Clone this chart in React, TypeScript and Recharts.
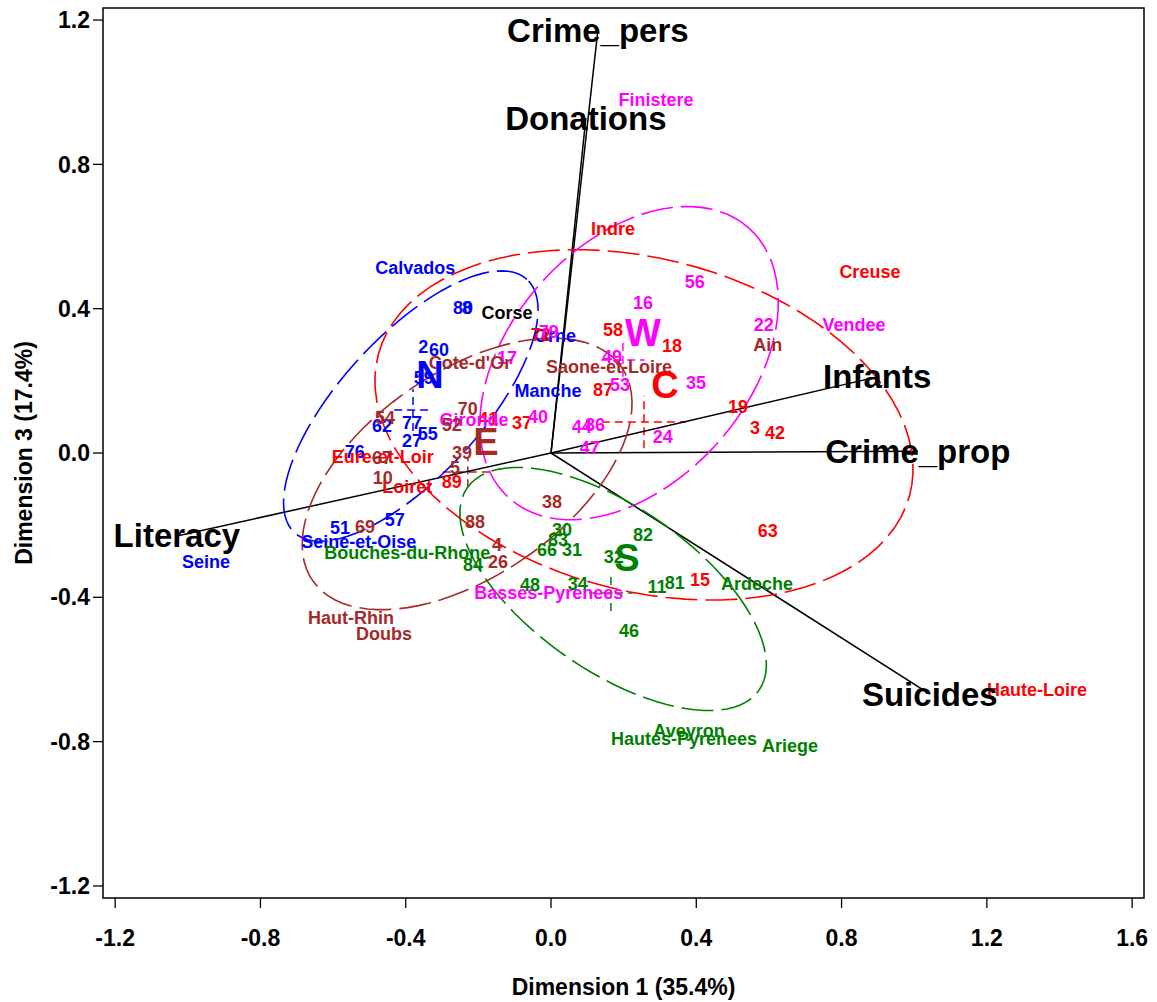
import React from 'react';
import {
  ScatterChart,
  Scatter,
  XAxis,
  YAxis,
  ReferenceLine,
  ReferenceArea
} from 'recharts';

// region colours
const colors: Record<string, string> = {
  N: '#0000FF',
  C: '#FF0000',
  E: '#A52A2A',
  S: '#008000',
  W: '#FF00FF'
};

const xTicks = [-1.2, -0.8, -0.4, 0.0, 0.4, 0.8, 1.2, 1.6];
const yTicks = [-1.2, -0.8, -0.4, 0.0, 0.4, 0.8, 1.2];

// department labels per region (Dimension 1, Dimension 3)
const northDepts = [
  { name: 'Calvados', x: -0.374, y: 0.513 },
  { name: '80', x: -0.242, y: 0.402 },
  { name: '8', x: -0.231, y: 0.402 },
  { name: '2', x: -0.352, y: 0.294 },
  { name: '60', x: -0.308, y: 0.285 },
  { name: '59', x: -0.35, y: 0.208 },
  { name: '62', x: -0.465, y: 0.075 },
  { name: '77', x: -0.383, y: 0.083 },
  { name: '27', x: -0.383, y: 0.033 },
  { name: '55', x: -0.339, y: 0.053 },
  { name: '76', x: -0.54, y: 0.003 },
  { name: '51', x: -0.581, y: -0.208 },
  { name: '57', x: -0.43, y: -0.186 },
  { name: 'Seine-et-Oise', x: -0.529, y: -0.247 },
  { name: 'Seine', x: -0.95, y: -0.302 },
  { name: 'Orne', x: 0.011, y: 0.325 },
  { name: 'Manche', x: -0.008, y: 0.172 }
];

const centreDepts = [
  { name: 'Indre', x: 0.171, y: 0.621 },
  { name: 'Creuse', x: 0.878, y: 0.502 },
  { name: '58', x: 0.171, y: 0.341 },
  { name: '18', x: 0.333, y: 0.297 },
  { name: '87', x: 0.143, y: 0.175 },
  { name: '19', x: 0.515, y: 0.128 },
  { name: '3', x: 0.562, y: 0.069 },
  { name: '42', x: 0.617, y: 0.055 },
  { name: '63', x: 0.597, y: -0.216 },
  { name: '15', x: 0.41, y: -0.352 },
  { name: 'Haute-Loire', x: 1.338, y: -0.657 },
  { name: 'Eure-et-Loir', x: -0.463, y: -0.011 },
  { name: 'Loiret', x: -0.396, y: -0.094 },
  { name: '89', x: -0.273, y: -0.08 },
  { name: '37', x: -0.08, y: 0.083 },
  { name: '72', x: -0.028, y: 0.327 },
  { name: '41', x: -0.173, y: 0.094 }
];

const westDepts = [
  { name: 'Finistere', x: 0.289, y: 0.978 },
  { name: '56', x: 0.396, y: 0.474 },
  { name: '16', x: 0.253, y: 0.416 },
  { name: '22', x: 0.586, y: 0.355 },
  { name: 'Vendee', x: 0.834, y: 0.355 },
  { name: '79', x: -0.006, y: 0.335 },
  { name: '17', x: -0.121, y: 0.263 },
  { name: '49', x: 0.168, y: 0.266 },
  { name: '53', x: 0.19, y: 0.188 },
  { name: '35', x: 0.399, y: 0.194 },
  { name: 'Gironde', x: -0.212, y: 0.091 },
  { name: '40', x: -0.036, y: 0.1 },
  { name: '44', x: 0.085, y: 0.072 },
  { name: '86', x: 0.121, y: 0.078 },
  { name: '47', x: 0.107, y: 0.014 },
  { name: '24', x: 0.308, y: 0.044 },
  { name: 'Basses-Pyrenees', x: -0.006, y: -0.388 }
];

const eastDepts = [
  { name: "Cote-d'Or", x: -0.223, y: 0.249 },
  { name: 'Saone-et-Loire', x: 0.16, y: 0.238 },
  { name: 'Ain', x: 0.597, y: 0.299 },
  { name: '70', x: -0.229, y: 0.122 },
  { name: '54', x: -0.457, y: 0.097 },
  { name: '52', x: -0.273, y: 0.078 },
  { name: '39', x: -0.245, y: 0.0 },
  { name: '67', x: -0.465, y: -0.014 },
  { name: '10', x: -0.463, y: -0.069 },
  { name: '5', x: -0.264, y: -0.042 },
  { name: '88', x: -0.209, y: -0.191 },
  { name: '38', x: 0.003, y: -0.136 },
  { name: '4', x: -0.149, y: -0.255 },
  { name: '26', x: -0.146, y: -0.302 },
  { name: '69', x: -0.512, y: -0.205 },
  { name: 'Haut-Rhin', x: -0.551, y: -0.457 },
  { name: 'Doubs', x: -0.46, y: -0.502 }
];

const southDepts = [
  { name: 'Bouches-du-Rhone', x: -0.396, y: -0.277 },
  { name: '84', x: -0.215, y: -0.31 },
  { name: '30', x: 0.03, y: -0.213 },
  { name: '83', x: 0.019, y: -0.241 },
  { name: '66', x: -0.011, y: -0.269 },
  { name: '31', x: 0.058, y: -0.269 },
  { name: '32', x: 0.173, y: -0.288 },
  { name: '82', x: 0.253, y: -0.227 },
  { name: '48', x: -0.058, y: -0.366 },
  { name: '34', x: 0.074, y: -0.363 },
  { name: '11', x: 0.292, y: -0.371 },
  { name: '81', x: 0.341, y: -0.36 },
  { name: 'Ardeche', x: 0.567, y: -0.363 },
  { name: '46', x: 0.215, y: -0.493 },
  { name: 'Aveyron', x: 0.38, y: -0.771 },
  { name: 'Hautes-Pyrenees', x: 0.366, y: -0.793 },
  { name: 'Ariege', x: 0.658, y: -0.812 }
];

const corseDept = [{ name: 'Corse', x: -0.121, y: 0.388 }];

// region letters
const regionLetters = [
  { name: 'N', x: -0.333, y: 0.216 },
  { name: 'W', x: 0.253, y: 0.333 },
  { name: 'C', x: 0.314, y: 0.188 },
  { name: 'E', x: -0.179, y: 0.03 },
  { name: 'S', x: 0.209, y: -0.291 }
];

// group means with +/- spread (dashed crosses)
const groupMeans = [
  { region: 'N', x: -0.38, y: 0.119, dx: 0.052, dy: 0.058 },
  { region: 'W', x: 0.198, y: 0.258, dx: 0.06, dy: 0.047 },
  { region: 'C', x: 0.256, y: 0.086, dx: 0.116, dy: 0.073 },
  { region: 'E', x: -0.229, y: -0.053, dx: 0.069, dy: 0.042 },
  { region: 'S', x: 0.165, y: -0.388, dx: 0.06, dy: 0.05 }
];

// data ellipses: centre, semi axes, rotation (deg)
const ellipses = [
  { region: 'N', cx: -0.386, cy: 0.13, a: 0.475, b: 0.194, angle: 47.7 },
  { region: 'C', cx: 0.256, cy: 0.078, a: 0.757, b: 0.46, angle: -15 },
  { region: 'W', cx: 0.215, cy: 0.249, a: 0.499, b: 0.329, angle: 49 },
  { region: 'E', cx: -0.231, cy: -0.058, a: 0.518, b: 0.282, angle: 35 },
  { region: 'S', cx: 0.171, cy: -0.377, a: 0.49, b: 0.227, angle: -35 }
];

// variable vectors
const variables = [
  { name: 'Crime_pers', x: 0.129, y: 1.172 },
  { name: 'Donations', x: 0.096, y: 0.928 },
  { name: 'Infants', x: 0.898, y: 0.211 },
  { name: 'Crime_prop', x: 1.01, y: 0.005 },
  { name: 'Suicides', x: 1.043, y: -0.668 },
  { name: 'Literacy', x: -1.03, y: -0.23 }
];

const xDomain = [-1.2335, 1.6327];
const yDomain = [-1.2334, 1.2334];

const FONT = '"Liberation Sans", Arial, Helvetica, sans-serif';

const ellipsePath = (e: typeof ellipses[number]) => {
  const th = (e.angle * Math.PI) / 180;
  const pts = [];
  for (let i = 0; i <= 90; i++) {
    const t = (i / 90) * 2 * Math.PI;
    pts.push({
      x: e.cx + e.a * Math.cos(t) * Math.cos(th) - e.b * Math.sin(t) * Math.sin(th),
      y: e.cy + e.a * Math.cos(t) * Math.sin(th) + e.b * Math.sin(t) * Math.cos(th)
    });
  }
  return pts;
};

const textShape = (color: string, size: number) => (props: any) => (
  <text
    x={props.cx}
    y={props.cy}
    textAnchor="middle"
    dominantBaseline="central"
    fill={color}
    fontSize={size}
    fontWeight="bold"
    fontFamily={FONT}
  >
    {props.payload.name}
  </text>
);

const noShape = () => <g />;

export default function App() {
  const deptGroups = [
    { data: northDepts, color: colors.N },
    { data: centreDepts, color: colors.C },
    { data: westDepts, color: colors.W },
    { data: eastDepts, color: colors.E },
    { data: southDepts, color: colors.S },
    { data: corseDept, color: '#000000' }
  ];

  return (
    <div style={{ position: 'absolute', left: 0, top: 0, width: 1157, height: 1002, background: '#fff', fontFamily: FONT }}>
      <ScatterChart width={1157} height={1002} margin={{ top: 8, right: 13, bottom: 8, left: 8 }}>
        <XAxis
          type="number"
          dataKey="x"
          domain={xDomain}
          ticks={xTicks}
          interval={0}
          allowDataOverflow
          axisLine={false}
          tickSize={10}
          tickMargin={22}
          height={96}
          tickFormatter={(v: number) => v.toFixed(1)}
          tick={{ fill: '#000', fontSize: 23, fontWeight: 'bold', fontFamily: FONT }}
          tickLine={{ stroke: '#000', strokeWidth: 1.3 }}
        />
        <YAxis
          type="number"
          dataKey="y"
          domain={yDomain}
          ticks={yTicks}
          interval={0}
          allowDataOverflow
          axisLine={false}
          tickSize={10}
          tickMargin={3}
          width={95}
          tickFormatter={(v: number) => v.toFixed(1)}
          tick={{ fill: '#000', fontSize: 23, fontWeight: 'bold', fontFamily: FONT }}
          tickLine={{ stroke: '#000', strokeWidth: 1.3 }}
        />
        <ReferenceArea
          x1={xDomain[0]}
          x2={xDomain[1]}
          y1={yDomain[0]}
          y2={yDomain[1]}
          fill="none"
          stroke="#000"
          strokeWidth={1.5}
          ifOverflow="visible"
        />

        {ellipses.map((e) => (
          <Scatter
            key={`ell-${e.region}`}
            data={ellipsePath(e)}
            shape={noShape}
            line={{ stroke: colors[e.region], strokeWidth: 1.6, strokeDasharray: '32 8' }}
            lineType="joint"
            fill={colors[e.region]}
            isAnimationActive={false}
          />
        ))}

        {groupMeans.map((g) => (
          <ReferenceLine
            key={`h-${g.region}`}
            segment={[{ x: g.x - g.dx, y: g.y }, { x: g.x + g.dx, y: g.y }]}
            stroke={colors[g.region]}
            strokeWidth={1.5}
            strokeDasharray="8 5"
            ifOverflow="visible"
          />
        ))}
        {groupMeans.map((g) => (
          <ReferenceLine
            key={`v-${g.region}`}
            segment={[{ x: g.x, y: g.y - g.dy }, { x: g.x, y: g.y + g.dy }]}
            stroke={colors[g.region]}
            strokeWidth={1.5}
            strokeDasharray="8 5"
            ifOverflow="visible"
          />
        ))}

        {variables.map((v) => (
          <ReferenceLine
            key={`vec-${v.name}`}
            segment={[{ x: 0, y: 0 }, { x: v.x, y: v.y }]}
            stroke="#000"
            strokeWidth={1.5}
            ifOverflow="visible"
          />
        ))}

        {deptGroups.map((g, i) => (
          <Scatter
            key={`dept-${i}`}
            data={g.data}
            shape={textShape(g.color, 18)}
            fill={g.color}
            isAnimationActive={false}
          />
        ))}

        <Scatter
          data={regionLetters}
          shape={(props: any) => textShape(colors[props.payload.name], 38)(props)}
          isAnimationActive={false}
        />
        <Scatter data={variables} shape={textShape('#000', 33)} isAnimationActive={false} />
      </ScatterChart>

      <div
        style={{
          position: 'absolute',
          left: 103,
          width: 1041,
          top: 974,
          textAlign: 'center',
          fontSize: 23,
          fontWeight: 'bold',
          lineHeight: '26px'
        }}
      >
        Dimension 1 (35.4%)
      </div>
      <div
        style={{
          position: 'absolute',
          left: 24,
          top: 453,
          transform: 'translate(-50%, -50%) rotate(-90deg)',
          fontSize: 23,
          fontWeight: 'bold',
          whiteSpace: 'nowrap',
          lineHeight: '26px'
        }}
      >
        Dimension 3 (17.4%)
      </div>
    </div>
  );
}
